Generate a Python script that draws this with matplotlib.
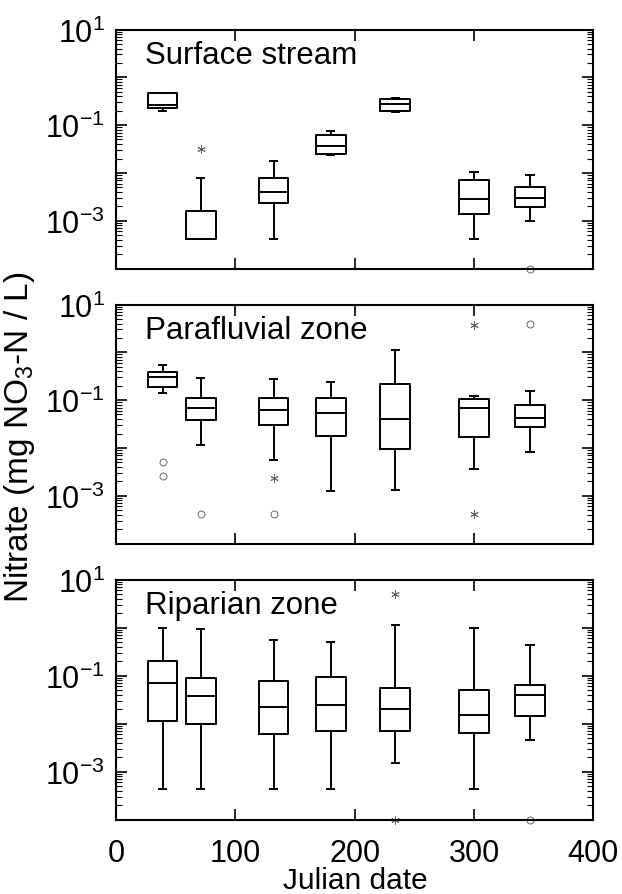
import matplotlib
matplotlib.use("Agg")
import matplotlib.pyplot as plt
import numpy as np
from matplotlib.ticker import LogLocator, NullFormatter, FixedLocator, FixedFormatter

plt.rcParams["font.family"] = ["Liberation Sans", "DejaVu Sans"]
plt.rcParams["mathtext.default"] = "regular"

days = [39, 71, 132, 180, 234, 300, 347]
titles = ["Surface stream", "Parafluvial zone", "Riparian zone"]

# box statistics per panel: lower whisker, q1, median, q3, upper whisker
surf_lo = [0.20, 4.1e-4, 4.1e-4, 0.024, 0.19, 4.1e-4, 1.0e-3]
surf_q1 = [0.23, 4.1e-4, 2.35e-3, 0.025, 0.20, 1.38e-3, 1.9e-3]
surf_med = [0.26, 4.1e-4, 4.0e-3, 0.037, 0.27, 2.9e-3, 3.0e-3]
surf_q3 = [0.46, 1.6e-3, 7.8e-3, 0.061, 0.35, 7.1e-3, 5.0e-3]
surf_hi = [0.46, 7.9e-3, 0.0178, 0.076, 0.376, 0.0104, 9.1e-3]

para_lo = [0.143, 0.0115, 5.6e-3, 1.25e-3, 1.29e-3, 3.7e-3, 8.1e-3]
para_q1 = [0.19, 0.038, 0.030, 0.018, 9.6e-3, 0.017, 0.028]
para_med = [0.30, 0.068, 0.062, 0.055, 0.041, 0.068, 0.043]
para_q3 = [0.39, 0.112, 0.112, 0.11, 0.22, 0.105, 0.079]
para_hi = [0.55, 0.295, 0.27, 0.243, 1.14, 0.124, 0.158]

ripa_lo = [4.3e-4, 4.3e-4, 4.3e-4, 4.3e-4, 1.48e-3, 4.3e-4, 4.5e-3]
ripa_q1 = [0.0112, 9.7e-3, 6.0e-3, 6.9e-3, 7.0e-3, 6.2e-3, 0.0145]
ripa_med = [0.069, 0.038, 0.0216, 0.024, 0.020, 0.015, 0.039]
ripa_q3 = [0.20, 0.088, 0.078, 0.095, 0.056, 0.049, 0.064]
ripa_hi = [1.0, 0.92, 0.56, 0.50, 1.12, 1.0, 0.44]

# outliers: day, value
surf_star_x, surf_star_y = [71], [0.032]
surf_circ_x, surf_circ_y = [347], [1e-4]
para_star_x, para_star_y = [132, 300, 300], [2.4e-3, 3.8, 4.1e-4]
para_circ_x, para_circ_y = [39, 39, 71, 132, 347], [5.0e-3, 2.6e-3, 4.1e-4, 4.1e-4, 3.9]
ripa_star_x, ripa_star_y = [234, 234], [5.0, 1e-4]
ripa_circ_x, ripa_circ_y = [347], [1e-4]

panels = [
    (surf_lo, surf_q1, surf_med, surf_q3, surf_hi, surf_star_x, surf_star_y, surf_circ_x, surf_circ_y),
    (para_lo, para_q1, para_med, para_q3, para_hi, para_star_x, para_star_y, para_circ_x, para_circ_y),
    (ripa_lo, ripa_q1, ripa_med, ripa_q3, ripa_hi, ripa_star_x, ripa_star_y, ripa_circ_x, ripa_circ_y),
]

W, H = 622, 895
fig = plt.figure(figsize=(W / 100, H / 100), dpi=100)
left, right = 116, 593.3
spans = [(30.5, 269.5), (305.5, 544.5), (580.5, 820.5)]

line = dict(color="black", linewidth=1.4)
for i, (lo, q1, med, q3, hi, sx, sy, cx, cy) in enumerate(panels):
    top, bot = spans[i]
    ax = fig.add_axes([left / W, 1 - bot / H, (right - left) / W, (bot - top) / H])
    stats = [dict(whislo=a, q1=b, med=c, q3=d, whishi=e, fliers=[])
             for a, b, c, d, e in zip(lo, q1, med, q3, hi)]
    ax.bxp(stats, positions=days, widths=25, capwidths=6, manage_ticks=False,
           boxprops=line, medianprops=line, whiskerprops=line, capprops=line)
    ax.plot(sx, sy, linestyle="none", marker=(6, 2, 0), markersize=6,
            color="#666666", markeredgewidth=0.7, clip_on=False)
    ax.plot(cx, cy, linestyle="none", marker="o", markersize=5,
            markerfacecolor="none", markeredgecolor="#666666",
            markeredgewidth=0.7, clip_on=False)

    ax.set_yscale("log")
    ax.set_ylim(1e-4, 10)
    ax.set_xlim(0, 400)
    ax.yaxis.set_major_locator(FixedLocator([1e1, 1e0, 1e-1, 1e-2, 1e-3, 1e-4]))
    ax.yaxis.set_major_formatter(FixedFormatter(
        ["$10^{1}$", "", "$10^{-1}$", "", "$10^{-3}$", ""]))
    ax.yaxis.set_minor_locator(LogLocator(base=10, subs=np.arange(2, 10), numticks=20))
    ax.yaxis.set_minor_formatter(NullFormatter())
    ax.set_xticks([0, 100, 200, 300, 400])
    ax.tick_params(which="major", direction="in", length=8, width=1.2,
                   top=True, right=True, labelsize=22, pad=8)
    ax.tick_params(axis="x", which="major", pad=13)
    ax.tick_params(which="minor", direction="in", length=4, width=0.8,
                   right=True, left=True)
    if i < 2:
        ax.tick_params(labelbottom=False)
    for s in ax.spines.values():
        s.set_linewidth(1.5)
    ax.text(0.06, 0.895, titles[i], transform=ax.transAxes, fontsize=22.5,
            va="center", ha="left")

fig.text(20 / W, 1 - 437 / H, "Nitrate (mg NO$_3$-N / L)", rotation=90,
         fontsize=24, ha="center", va="center")
fig.text(355 / W, 1 - 881 / H, "Julian date", fontsize=21.5, ha="center", va="center")

fig.savefig("out.png", dpi=100)
